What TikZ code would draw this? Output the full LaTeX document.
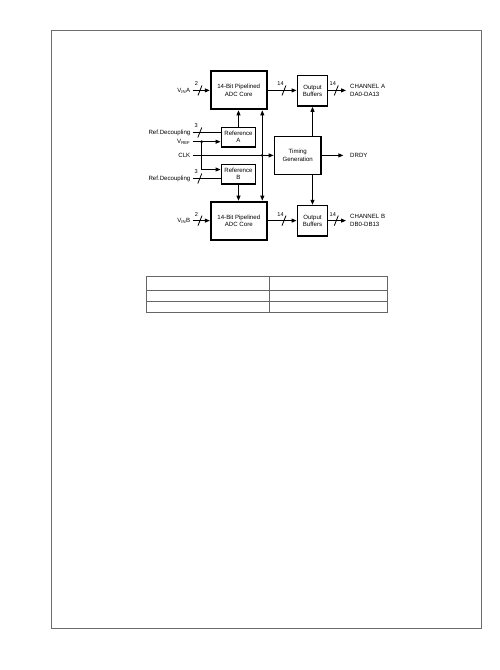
\documentclass[tikz,border=0pt]{standalone}
\usepackage{fontspec}
\setmainfont{Liberation Sans}
\usepackage{tikz}
\usetikzlibrary{
  	arrows.meta,
  	calc,
  	positioning
  }
\tikzstyle{blk}=[draw,line width=1.5pt,inner sep=0pt,align=center,font=\fontsize{6.1}{7.3}\selectfont]
\tikzstyle{adc}=[blk,line width=1.9pt,minimum width=56pt,minimum height=38pt]
\tikzstyle{obuf}=[blk,minimum width=30.4pt,minimum height=30.6pt]
\tikzstyle{refbox}=[blk,minimum width=34.4pt,minimum height=19.5pt]
\tikzstyle{lbl}=[inner sep=0pt,text height=4.4pt,text depth=0pt,font=\fontsize{6.1}{8}\selectfont]
\tikzstyle{lbltwo}=[inner sep=0pt,align=left,font=\fontsize{6.1}{8}\selectfont]
\tikzstyle{sig}=[line width=0.9pt,-{Triangle[length=5pt,width=4pt]}]
\tikzstyle{dsig}=[line width=0.9pt,{Triangle[length=5pt,width=4pt]}-{Triangle[length=5pt,width=4pt]}]
\tikzstyle{wire}=[line width=0.9pt]
\tikzset{pics/bus/.style={code={
  \draw[line width=0.8pt] (-2,5) -- (2,-5);
  \node[inner sep=0pt,font=\fontsize{5.6}{6}\selectfont] at (-3.5,-6.5) {#1};
}}}

\begin{document}
\begin{tikzpicture}[x=1pt,y=-1pt]
\useasboundingbox (0,0) rectangle (500,670);
\draw[line width=1pt,gray!85!black] (51.3,30.3) rectangle (481.7,628.3);

% blocks
\node[adc] (adca) at (238.7,90.4) {14-Bit Pipelined\\ADC Core};
\node[adc] (adcb) at (238.8,220.6) {14-Bit Pipelined\\ADC Core};
\node[obuf] (obufa) at (312.5,90.8) {Output\\Buffers};
\node[obuf] (obufb) at (312.5,220.8) {Output\\Buffers};
\node[refbox] (refa) at (238.5,137.1) {Reference\\A};
\node[refbox] (refb) at (238.5,174) {Reference\\B};
\node[blk,minimum width=46.7pt,minimum height=38.2pt] (timing) at (297.7,155.4) {Timing\\Generation};

% pins
\node[lbl,anchor=east] (vina) at (190.5,90.4) {V\textsubscript{IN}A};
\node[lbl,anchor=east] (deca) at (190.5,132.5) {Ref.Decoupling};
\node[lbl,anchor=east] (vref) at (190.5,141.7) {V\textsubscript{REF}};
\node[lbl,anchor=east] (clk) at (190.5,155.4) {CLK};
\node[lbl,anchor=east] (decb) at (190.5,178.5) {Ref.Decoupling};
\node[lbl,anchor=east] (vinb) at (190.5,220.6) {V\textsubscript{IN}B};
\node[lbltwo,anchor=west] (cha) at (350,90.4) {CHANNEL A\\DA0-DA13};
\node[lbltwo,anchor=west] (chb) at (350,220.6) {CHANNEL B\\DB0-DB13};
\node[lbl,anchor=west] (drdy) at (350,155.4) {DRDY};
\coordinate (vdot) at (201.7,141.7);
\coordinate (bus) at (262.3,155.4);

% inputs
\draw[sig] ([xshift=2pt]vina.east) -- (adca.west);
\draw[sig] ([xshift=2pt]vinb.east) -- (adcb.west);
\draw[wire] ([xshift=2pt]deca.east) -- (deca.east -| refa.west);
\draw[sig] ([xshift=2pt]vref.east) -- (vref.east -| refa.west);
\draw[sig] (vdot) |- ($(refb.west)+(0,-4.5)$);
\draw[wire] ([xshift=2pt]decb.east) -- (decb.east -| refb.west);
\draw[sig] ([xshift=2pt]clk.east) -- (timing.west);
\fill (vdot) circle (1.5);
\fill (bus) circle (1.5);

% internal
\draw[sig] (refa.north) -- (refa.north |- adca.south);
\draw[sig] (refb.south) -- (refb.south |- adcb.north);
\draw[dsig] (adca.south -| bus) -- (adcb.north -| bus);
\draw[sig] (adca.east) -- (obufa.west |- adca.east);
\draw[sig] (adcb.east) -- (obufb.west |- adcb.east);
\draw[sig] (obufa.south |- timing.north) -- (obufa.south);
\draw[sig] (obufb.north |- timing.south) -- (obufb.north);

% outputs
\draw[sig] (obufa.east |- cha.west) -- ([xshift=-4pt]cha.west);
\draw[sig] (obufb.east |- chb.west) -- ([xshift=-4pt]chb.west);
\draw[sig] (timing.east) -- ([xshift=-6.7pt]drdy.west);

% bus widths
\pic at (200,90.4) {bus=2};
\pic at (284,90.4) {bus=14};
\pic at (336.3,90.4) {bus=14};
\pic at (199.8,132.5) {bus=3};
\pic at (199.8,178.5) {bus=3};
\pic at (200,220.6) {bus=2};
\pic at (284,220.6) {bus=14};
\pic at (336.3,220.6) {bus=14};

% table
\draw[line width=0.8pt,gray!80!black] (146,276.7) rectangle (387.3,312.7)
  (146,290.3) -- (387.3,290.3)
  (146,301.7) -- (387.3,301.7)
  (269.3,276.7) -- (269.3,312.7);
\end{tikzpicture}
\end{document}
